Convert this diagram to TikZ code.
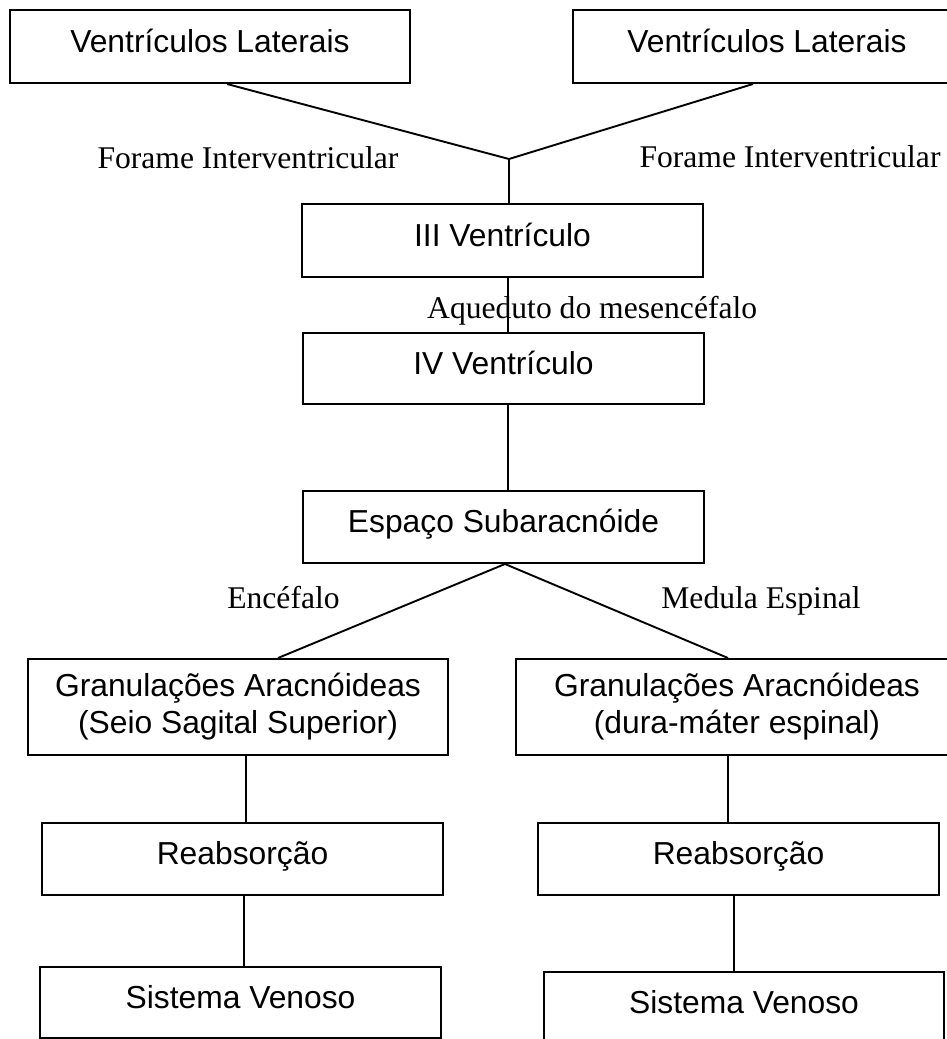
\documentclass[tikz,border=0pt]{standalone}
\usepackage{fontspec}
\setmainfont{Liberation Serif}
\newfontfamily\arialfont{Liberation Sans}
\begin{document}
\begin{tikzpicture}[x=1pt,y=-1pt,
  box/.style={draw, line width=2pt, inner sep=0pt, align=center,
    font=\arialfont\fontsize{31.8}{37}\selectfont},
  onebox/.style={box, text height=22pt, text depth=10.4pt},
  lbl/.style={inner sep=0pt, font=\fontsize{31.6}{37}\selectfont},
  conn/.style={line width=1.9pt}]
\useasboundingbox (0,0) rectangle (947,1039);
\clip (0,0) rectangle (947,1039);
% boxes
\node[onebox, minimum width=400pt, minimum height=73pt] (tl) at (210,46.5) {Ventrículos Laterais};
\node[onebox, minimum width=388pt, minimum height=73pt] (tr) at (767,46.5) {Ventrículos Laterais};
\node[onebox, minimum width=401pt, minimum height=73pt] (v3) at (502.5,240.5) {III Ventrículo};
\node[onebox, minimum width=401pt, minimum height=71pt] (v4) at (503.5,368.5) {IV Ventrículo};
\node[onebox, minimum width=401pt, minimum height=72pt] (esp) at (503.5,527) {Espaço Subaracnóide};
\node[box, minimum width=420pt, minimum height=96pt] (gl) at (238,707) {Granulações Aracnóideas\\(Seio Sagital Superior)};
\node[box, minimum width=442pt, minimum height=96pt] (gr) at (737,707) {Granulações Aracnóideas\\(dura-máter espinal)};
\node[onebox, minimum width=401pt, minimum height=72pt] (rl) at (242.5,859) {Reabsorção};
\node[onebox, minimum width=401pt, minimum height=72pt] (rr) at (738.5,859) {Reabsorção};
\node[onebox, minimum width=401pt, minimum height=71pt] (sl) at (240.5,1002.5) {Sistema Venoso};
\node[onebox, minimum width=400pt, minimum height=71pt] (sr) at (744,1007.5) {Sistema Venoso};
% labels
\node[lbl, anchor=base] (fl) at (248,168) {Forame Interventricular};
\node[lbl, anchor=base] (fr) at (790,167) {Forame Interventricular};
\node[lbl, anchor=base west] (aq) at (427,318) {Aqueduto do mesencéfalo};
\node[lbl, anchor=base] (enc) at (283.5,608) {Encéfalo};
\node[lbl, anchor=base] (med) at (761,608) {Medula Espinal};
% connectors
\coordinate (J) at (509,159);
\draw[conn] ([xshift=17pt]tl.south) -- (J);
\draw[conn] ([xshift=-14pt]tr.south) -- (J);
\draw[conn] (J) -- (J |- v3.north);
\draw[conn] ([xshift=-1pt]v3.south -| J) -- ([xshift=-1pt]v4.north -| J);
\draw[conn] ([xshift=-1pt]v4.south -| J) -- ([xshift=-1pt]esp.north -| J);
\draw[conn] ([xshift=40pt]gl.north) -- ([xshift=1.5pt]esp.south) -- ([xshift=-9pt]gr.north);
\draw[conn] ([xshift=8pt]gl.south) -- ([xshift=8pt]gl.south |- rl.north);
\draw[conn] ([xshift=1.5pt]rl.south) -- ([xshift=1.5pt]rl.south |- sl.north);
\draw[conn] ([xshift=-9pt]gr.south) -- ([xshift=-9pt]gr.south |- rr.north);
\draw[conn] ([xshift=-4.5pt]rr.south) -- ([xshift=-4.5pt]rr.south |- sr.north);
\end{tikzpicture}
\end{document}
